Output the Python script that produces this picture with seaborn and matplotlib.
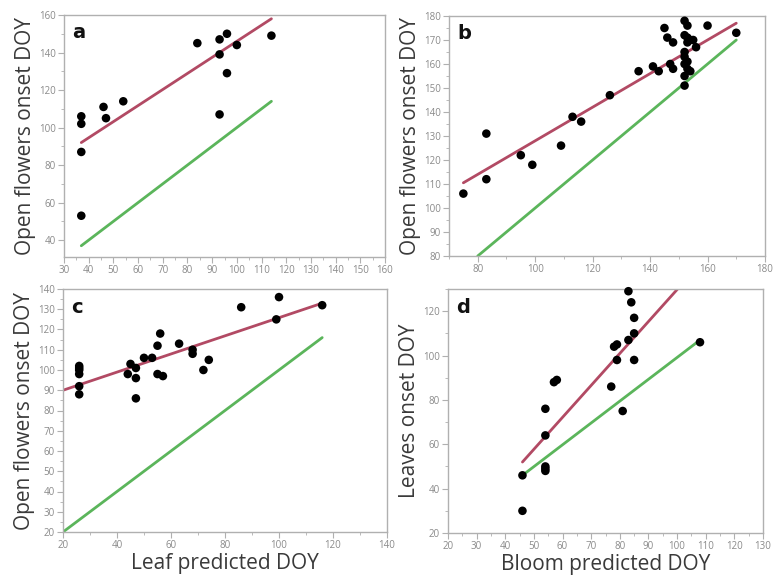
import matplotlib
matplotlib.use("Agg")
import matplotlib.pyplot as plt
import seaborn as sns
import pandas as pd
from matplotlib.ticker import MultipleLocator

sns.set_theme(style="white")
plt.rcParams['font.family'] = ['Open Sans', 'DejaVu Sans']

# ---------------- data ----------------
# panel a: leaf predicted DOY vs open flowers onset DOY
a_x = [37, 37, 37, 37, 46, 47, 54, 84, 93, 93, 93, 96, 96, 100, 114]
a_y = [106, 102, 87, 53, 111, 105, 114, 145, 147, 139, 107, 150, 129, 144, 149]
a_fit_x = [37, 114]
a_fit_y = [92, 158]
a_one_x = [37, 114]
a_one_y = [37, 114]

# panel b: bloom predicted DOY vs open flowers onset DOY
b_x = [75, 83, 83, 95, 99, 109, 113, 116, 126, 136, 141, 143, 145, 146, 148, 147, 148,
       152, 153, 152, 153, 154, 153, 152, 152, 153, 152, 153, 152, 152, 154,
       156, 155, 160, 170]
b_y = [106, 131, 112, 122, 118, 126, 138, 136, 147, 157, 159, 157, 175, 171, 169, 160, 158,
       178, 176, 172, 171, 170, 169, 165, 163, 161, 160, 158, 155, 151, 157,
       167, 170, 176, 173]
b_fit_x = [75, 170]
b_fit_y = [110.5, 177]
b_one_x = [80, 170]
b_one_y = [80, 170]

# panel c: leaf predicted DOY vs open flowers onset DOY
c_x = [26, 26, 26, 26, 26, 26, 44, 45, 47, 47, 47, 50, 53, 55, 56, 55, 57, 63,
       68, 68, 72, 74, 86, 100, 99, 116]
c_y = [102, 101, 100, 98, 92, 88, 98, 103, 101, 96, 86, 106, 106, 112, 118, 98, 97, 113,
       110, 108, 100, 105, 131, 136, 125, 132]
c_fit_x = [20, 116]
c_fit_y = [90, 133]
c_one_x = [20, 116]
c_one_y = [20, 116]

# panel d: bloom predicted DOY vs leaves onset DOY
d_x = [46, 46, 54, 54, 54, 54, 54, 57, 58, 77, 78, 79, 79, 81, 83, 83, 84, 85, 85, 85, 108]
d_y = [30, 46, 76, 64, 50, 49, 48, 88, 89, 86, 104, 105, 98, 75, 107, 129, 124, 117, 110, 98, 106]
d_fit_x = [46, 104]
d_fit_y = [52, 135.5]
d_one_x = [46, 108]
d_one_y = [46, 107]

panels = [
    dict(x=a_x, y=a_y, fx=a_fit_x, fy=a_fit_y, ox=a_one_x, oy=a_one_y, letter="a",
         xlim=(30, 160), ylim=(31, 160), xmaj=10, xmin=5, ymaj=20, ymin=10,
         ylabel="Open flowers onset DOY", xlabel=None,
         rect=(64, 15, 385, 257)),
    dict(x=b_x, y=b_y, fx=b_fit_x, fy=b_fit_y, ox=b_one_x, oy=b_one_y, letter="b",
         xlim=(70, 180), ylim=(80, 180), xmaj=20, xmin=10, ymaj=10, ymin=5,
         ylabel="Open flowers onset DOY", xlabel=None,
         rect=(449, 16, 765, 256)),
    dict(x=c_x, y=c_y, fx=c_fit_x, fy=c_fit_y, ox=c_one_x, oy=c_one_y, letter="c",
         xlim=(20, 140), ylim=(20, 140), xmaj=20, xmin=10, ymaj=10, ymin=5,
         ylabel="Open flowers onset DOY", xlabel="Leaf predicted DOY",
         rect=(63, 289, 387, 532)),
    dict(x=d_x, y=d_y, fx=d_fit_x, fy=d_fit_y, ox=d_one_x, oy=d_one_y, letter="d",
         xlim=(20, 130), ylim=(20, 130), xmaj=10, xmin=5, ymaj=20, ymin=10,
         ylabel="Leaves onset DOY", xlabel="Bloom predicted DOY",
         rect=(448, 289, 763, 533)),
]

W, H = 775, 580
fig = plt.figure(figsize=(W / 100, H / 100), dpi=100)

red = "#b24a64"
green = "#5bb55b"
spine_col = "#b0b0b0"
tick_col = "#8a8a8a"
label_col = "#3a3a3a"

for p in panels:
    l, t, r, b = p["rect"]
    ax = fig.add_axes([l / W, 1 - b / H, (r - l) / W, (b - t) / H])
    sns.lineplot(x=p["ox"], y=p["oy"], ax=ax, color=green, linewidth=2.0)
    sns.lineplot(x=p["fx"], y=p["fy"], ax=ax, color=red, linewidth=2.0)
    sns.scatterplot(x=p["x"], y=p["y"], ax=ax, color="black", s=38,
                    edgecolor="none", zorder=5, clip_on=False)
    ax.set_xlim(*p["xlim"])
    ax.set_ylim(*p["ylim"])
    ax.xaxis.set_major_locator(MultipleLocator(p["xmaj"]))
    ax.xaxis.set_minor_locator(MultipleLocator(p["xmin"]))
    ax.yaxis.set_major_locator(MultipleLocator(p["ymaj"]))
    ax.yaxis.set_minor_locator(MultipleLocator(p["ymin"]))
    ax.tick_params(axis="both", which="major", direction="out", length=4, width=0.8,
                   color=spine_col, labelsize=7, labelcolor=tick_col, pad=2,
                   bottom=True, left=True)
    ax.tick_params(axis="both", which="minor", direction="out", length=2, width=0.6,
                   color=spine_col, bottom=True, left=True)
    for s in ax.spines.values():
        s.set_color(spine_col)
        s.set_linewidth(1.0)
        s.set_visible(True)
    ax.set_ylabel(p["ylabel"], fontsize=15, color=label_col, labelpad=2)
    if p["xlabel"]:
        ax.set_xlabel(p["xlabel"], fontsize=15, color=label_col, labelpad=1)
    else:
        ax.set_xlabel("")
    ax.text(0.025, 0.965, p["letter"], transform=ax.transAxes, fontsize=14,
            fontweight="bold", color="#111111", va="top", ha="left",
            family="DejaVu Sans")

fig.savefig("out.png", dpi=100, facecolor="white")
